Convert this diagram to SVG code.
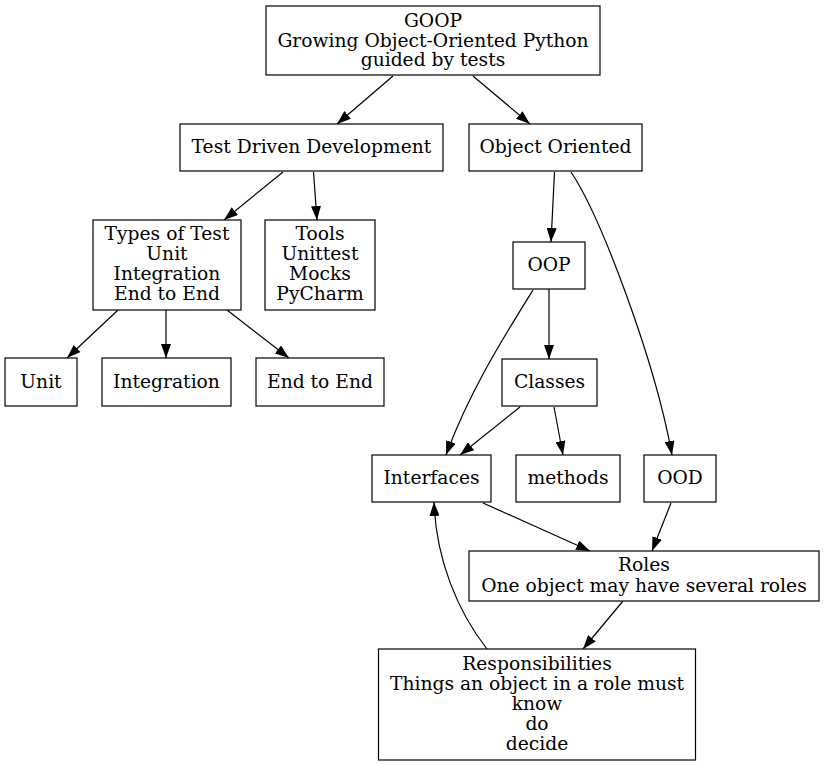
<svg xmlns="http://www.w3.org/2000/svg" width="824" height="765" viewBox="0 0 824 765">
<defs>
<marker id="ah" markerWidth="14" markerHeight="10" refX="14" refY="5" orient="auto" markerUnits="userSpaceOnUse">
<path d="M0,0 L14,5 L0,10 z" fill="#000"/>
</marker>
<style>
rect{fill:#fff;stroke:#000;stroke-width:1.2}
text{font-family:"DejaVu Serif",serif;font-size:18.7px;text-anchor:middle;fill:#000}
.e path{fill:none;stroke:#000;stroke-width:1.2;marker-end:url(#ah)}
</style>
</defs>
<rect x="0" y="0" width="824" height="765" style="stroke:none"/>
<g class="e" id="connectors">
<path d="M393,76 L337,124"/>
<path d="M473,76 L530,124"/>
<path d="M283,172 L224,220"/>
<path d="M313.5,172 L317,220"/>
<path d="M118,310 L67,358"/>
<path d="M166,310 L166,358"/>
<path d="M227,310 L289,358"/>
<path d="M554.5,172 L551,242"/>
<path d="M571,172 C600,215 655,360 672,455"/>
<path d="M549,289 L549,359"/>
<path d="M533,290 C505,335 470,390 446,455"/>
<path d="M520,407 L460,455"/>
<path d="M554,407 L563,455"/>
<path d="M483,503 L590,551"/>
<path d="M671,503 L652,551"/>
<path d="M623,601 L583,649"/>
<path d="M487,649 C458,612 436,560 434,502"/>
</g>
<g id="goop"><rect x="266" y="6" width="334" height="69"/><text x="433" y="27">GOOP</text><text x="433" y="46.5">Growing Object-Oriented Python</text><text x="433" y="66">guided by tests</text></g>
<g id="tdd"><rect x="180" y="124" width="263" height="47"/><text x="311.5" y="153">Test Driven Development</text></g>
<g id="oo"><rect x="469" y="124" width="173" height="47"/><text x="555.5" y="153">Object Oriented</text></g>
<g id="types"><rect x="93" y="220" width="148" height="90"/><text x="167" y="240">Types of Test</text><text x="167" y="260">Unit</text><text x="167" y="280">Integration</text><text x="167" y="300">End to End</text></g>
<g id="tools"><rect x="265" y="220" width="110" height="90"/><text x="320" y="240">Tools</text><text x="320" y="260">Unittest</text><text x="320" y="280">Mocks</text><text x="320" y="300">PyCharm</text></g>
<g id="oop"><rect x="513" y="242" width="72" height="47"/><text x="549" y="271">OOP</text></g>
<g id="unit"><rect x="5" y="358" width="72" height="48"/><text x="41" y="388">Unit</text></g>
<g id="integration"><rect x="102" y="358" width="129" height="48"/><text x="166.5" y="388">Integration</text></g>
<g id="e2e"><rect x="256" y="358" width="128" height="48"/><text x="320" y="388">End to End</text></g>
<g id="classes"><rect x="502" y="359" width="95" height="47"/><text x="549.5" y="388">Classes</text></g>
<g id="interfaces"><rect x="372" y="455" width="119" height="47"/><text x="431.5" y="484">Interfaces</text></g>
<g id="methods"><rect x="516" y="455" width="104" height="47"/><text x="568" y="484">methods</text></g>
<g id="ood"><rect x="644" y="455" width="72" height="47"/><text x="680" y="484">OOD</text></g>
<g id="roles"><rect x="469" y="551" width="350" height="50"/><text x="644" y="571">Roles</text><text x="644" y="591.5">One object may have several roles</text></g>
<g id="resp"><rect x="378.5" y="649" width="317" height="111"/><text x="537" y="670">Responsibilities</text><text x="537" y="690">Things an object in a role must</text><text x="537" y="710">know</text><text x="537" y="730">do</text><text x="537" y="750">decide</text></g>
</svg>
